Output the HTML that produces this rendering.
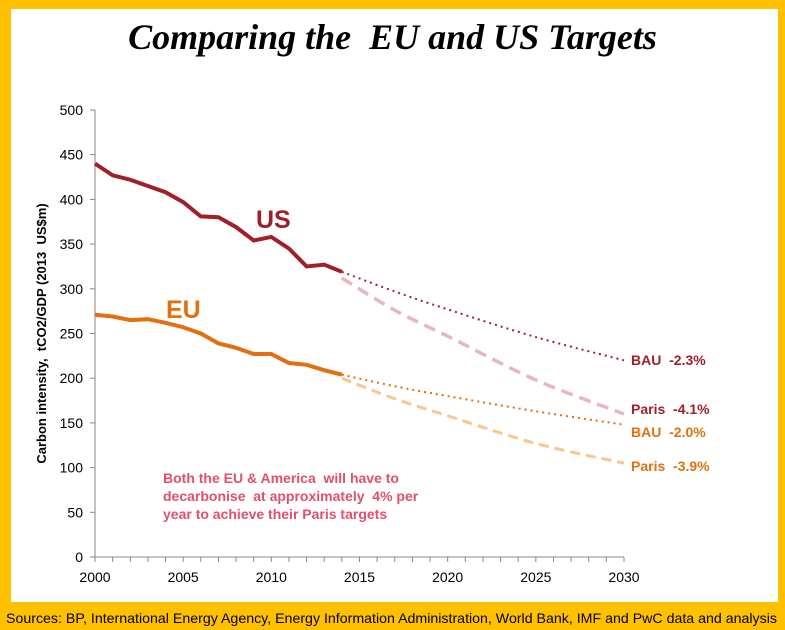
<!DOCTYPE html>
<html><head><meta charset="utf-8"><style>
body{margin:0;background:#FFC000;width:785px;height:630px;overflow:hidden;font-family:"Liberation Sans",sans-serif}
#panel{position:absolute;left:11px;top:9px;width:767px;height:593px;background:#fff}
#title{position:absolute;left:0;top:16px;width:785px;text-align:center;font-family:"Liberation Serif",serif;font-style:italic;font-weight:bold;font-size:36px;color:#000;white-space:pre}
#src{position:absolute;left:6px;top:610px;font-size:14px;color:#000;white-space:nowrap;transform-origin:0 0;transform:scaleX(1.013)}
svg{position:absolute;left:0;top:0}
text{white-space:pre}
</style></head><body>
<div id="panel"></div>
<div id="title">Comparing the  EU and US Targets</div>
<div id="src">Sources: BP, International Energy Agency, Energy Information Administration, World Bank, IMF and PwC data and analysis</div>
<svg id="chart" width="785" height="630"></svg>
<script>
const years=[2000,2001,2002,2003,2004,2005,2006,2007,2008,2009,2010,2011,2012,2013,2014];
const usHist=[440,427,422,415,408,397,381,380,369,354,358,345,325,327,319];
const euHist=[271,269,265,266,262,257,250,239,234,227,227,217,215,209,204];
const projYears=[2014,2017,2020,2025,2030];
const usBAU=[319,297,277,246,220];
const usParis=[312,276,247,198,160];
const euBAU=[204,191,180,163,148];
const euParis=[200,177,158,127,105];
const yTicks=[0,50,100,150,200,250,300,350,400,450,500];
const xTicks=[2000,2005,2010,2015,2020,2025,2030];
const NS="http://www.w3.org/2000/svg",svg=document.getElementById('chart');
const X=v=>95+(v-2000)*(624-95)/30, Y=v=>557-v*(557-110)/500;
function mk(t,a,p){const e=document.createElementNS(NS,t);for(const k in a)e.setAttribute(k,a[k]);(p||svg).appendChild(e);return e;}
const ax=mk('g',{});


mk('line',{x1:X(2000),y1:Y(0),x2:X(2030),y2:Y(0),stroke:'#888'},ax);
mk('line',{x1:X(2000),y1:Y(0),x2:X(2000),y2:Y(500),stroke:'#888'},ax);
yTicks.forEach(v=>{mk('line',{x1:X(2000)-5,x2:X(2000),y1:Y(v),y2:Y(v),stroke:'#888'},ax);
 const t=mk('text',{x:X(2000)-12,y:Y(v)+5,'text-anchor':'end','font-size':14,fill:'#000'},ax);t.textContent=v;
 
 });
for(let y=2000;y<=2030;y++)mk('line',{x1:X(y),x2:X(y),y1:Y(0),y2:Y(0)+5,stroke:'#888'},ax);
xTicks.forEach(v=>{const t=mk('text',{x:X(v),y:Y(0)+25,'text-anchor':'middle','font-size':14,fill:'#000'},ax);t.textContent=v;
 
 });
const yt=mk('text',{transform:`translate(46,${Y(250)}) rotate(-90)`,'text-anchor':'middle','font-size':13,'font-weight':'bold',fill:'#000'});
yt.textContent='Carbon intensity,  tCO2/GDP (2013  US$m)';


function line(xs,ys,attrs,name,smooth){let d;
 if(!smooth)d=xs.map((x,i)=>(i?'L':'M')+X(x)+','+Y(ys[i])).join('');
 else{const p=xs.map((x,i)=>[X(x),Y(ys[i])]);d='M'+p[0];for(let i=1;i<p.length;i++){const p0=p[i-2]||p[i-1],p1=p[i-1],p2=p[i],p3=p[i+1]||p[i];
  d+=`C${p1[0]+(p2[0]-p0[0])/6},${p1[1]+(p2[1]-p0[1])/6} ${p2[0]-(p3[0]-p1[0])/6},${p2[1]-(p3[1]-p1[1])/6} ${p2[0]},${p2[1]}`;}}
 const e=mk('path',Object.assign({d:d,fill:'none'},attrs));
 
 }
line(projYears,usParis,{stroke:'#EBB5BF','stroke-width':3.5,'stroke-dasharray':'12,7'},'us-paris-line',true);
line(projYears,euParis,{stroke:'#FBC58C','stroke-width':3,'stroke-dasharray':'10,6'},'eu-paris-line',true);
line(projYears,usBAU,{stroke:'#A0202A','stroke-width':2,'stroke-dasharray':'2,4'},'us-bau-line',true);
line(projYears,euBAU,{stroke:'#E07010','stroke-width':2,'stroke-dasharray':'2,4'},'eu-bau-line',true);
line(years,usHist,{stroke:'#A0202A','stroke-width':4},'us-history-line');
line(years,euHist,{stroke:'#E07010','stroke-width':4},'eu-history-line');
function lbl(x,y,s,txt,c,w,name){const t=mk('text',{x:x,y:y,'font-size':s,'font-weight':'bold',fill:c});t.textContent=txt;
 
 }
lbl(256,228,25,'US','#A0202A',0,'us-label');
lbl(166,318,25,'EU','#E07010',0,'eu-label');
lbl(631,365,14,'BAU  -2.3%','#A0202A',0,'us-bau-label');
lbl(631,414,14,'Paris  -4.1%','#A0202A',0,'us-paris-label');
lbl(631,437,14,'BAU  -2.0%','#E07010',0,'eu-bau-label');
lbl(631,471,14,'Paris  -3.9%','#E07010',0,'eu-paris-label');
lbl(163,483,14,'Both the EU & America  will have to','#E0506A',0,'note-line-1');
lbl(163,501,14,'decarbonise  at approximately  4% per','#E0506A',0,'note-line-2');
lbl(163,519,14,'year to achieve their Paris targets','#E0506A',0,'note-line-3');
</script>
</body></html>
